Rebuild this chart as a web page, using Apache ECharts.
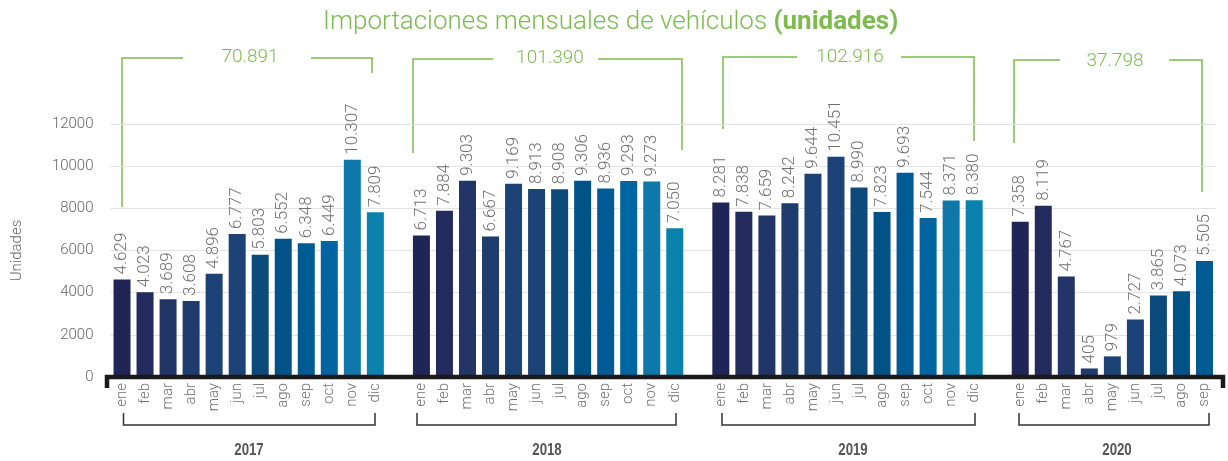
<!DOCTYPE html>
<html>
<head>
<meta charset="utf-8">
<script src="https://cdn.jsdelivr.net/npm/echarts@6/dist/echarts.min.js"></script>
<style>
  html, body { margin: 0; padding: 0; background: #fff; }
  #chart { width: 1228px; height: 461px; }
</style>
</head>
<body>
<div id="chart"></div>
<script>
// datos
const months = ['ene', 'feb', 'mar', 'abr', 'may', 'jun', 'jul', 'ago', 'sep', 'oct', 'nov', 'dic'];
const years = ['2017', '2018', '2019', '2020'];
const v2017 = [4629, 4023, 3689, 3608, 4896, 6777, 5803, 6552, 6348, 6449, 10307, 7809];
const v2018 = [6713, 7884, 9303, 6667, 9169, 8913, 8908, 9306, 8936, 9293, 9273, 7050];
const v2019 = [8281, 7838, 7659, 8242, 9644, 10451, 8990, 7823, 9693, 7544, 8371, 8380];
const v2020 = [7358, 8119, 4767, 405, 979, 2727, 3865, 4073, 5505];
const totals = ['70.891', '101.390', '102.916', '37.798'];
const yTicks = [0, 2000, 4000, 6000, 8000, 10000, 12000];

const monthColors = ['#1f2556', '#222b5c', '#233566', '#1e3d6e', '#1c4276', '#1c4277',
  '#0d4a7c', '#015387', '#005b95', '#0065a0', '#0f78aa', '#0a82ad'];

const green = '#7dbb4f';
const grey = '#707070';

// categorias con un hueco entre años
const allValues = [v2017, v2018, v2019, v2020];
const categories = [];
const seriesData = [];
allValues.forEach((vals, yi) => {
  vals.forEach((v, mi) => {
    categories.push(months[mi]);
    seriesData.push({ value: v, itemStyle: { color: monthColors[mi] } });
  });
  if (yi < allValues.length - 1) {
    categories.push('');
    seriesData.push('-');
  }
});

function fmt(v) {
  return String(v).replace(/\B(?=(\d{3})+(?!\d))/g, '.');
}

// corchetes verdes (totales) y negros (años), en pixeles
const topBrackets = [
  { xl: 122, ytop: 58, ylb: 207, xh1: 183, xh2: 311, xr: 372, yrb: 73, tx: 250, ty: 57 },
  { xl: 413, ytop: 59, ylb: 153, xh1: 493, xh2: 598, xr: 682, yrb: 150, tx: 550, ty: 58 },
  { xl: 723, ytop: 57, ylb: 129, xh1: 797, xh2: 901, xr: 974, yrb: 141, tx: 850, ty: 57 },
  { xl: 1014, ytop: 60, ylb: 143, xh1: 1060, xh2: 1169, xr: 1202, yrb: 192, tx: 1115, ty: 61 }
];
const yearBrackets = [
  { x1: 123.5, x2: 375, tx: 249 },
  { x1: 417, x2: 676, tx: 547 },
  { x1: 722, x2: 975, tx: 853 },
  { x1: 1019, x2: 1209, tx: 1117 }
];

const graphic = [];
topBrackets.forEach((b, i) => {
  graphic.push({
    type: 'polyline',
    shape: { points: [[b.xl, b.ylb], [b.xl, b.ytop], [b.xh1, b.ytop]] },
    style: { stroke: green, lineWidth: 1.5, fill: null }
  });
  graphic.push({
    type: 'polyline',
    shape: { points: [[b.xh2, b.ytop], [b.xr, b.ytop], [b.xr, b.yrb]] },
    style: { stroke: green, lineWidth: 1.5, fill: null }
  });
  graphic.push({
    type: 'text',
    x: b.tx, y: b.ty,
    style: {
      text: totals[i], fill: green, font: '300 19px Roboto',
      textAlign: 'center', textVerticalAlign: 'middle'
    }
  });
});
yearBrackets.forEach((b, i) => {
  graphic.push({
    type: 'polyline',
    shape: { points: [[b.x1, 413], [b.x1, 425], [b.x2, 425], [b.x2, 413]] },
    style: { stroke: '#333', lineWidth: 1.5, fill: null }
  });
  graphic.push({
    type: 'text',
    x: b.tx, y: 450,
    scaleX: 0.78,
    style: {
      text: years[i], fill: '#555', font: 'bold 17px "Liberation Sans"',
      textAlign: 'center', textVerticalAlign: 'middle'
    }
  });
});
// linea base negra con ganchos
graphic.push({
  type: 'polyline',
  z: 100,
  shape: { points: [[107, 388], [107, 377], [1223, 377], [1223, 388]] },
  style: { stroke: '#1a1a1a', lineWidth: 4.5, fill: null }
});

const chart = echarts.init(document.getElementById('chart'));
chart.setOption({
  animation: false,
  title: {
    text: '{a|Importaciones mensuales de vehículos }{b|(unidades)}',
    left: 318,
    top: 4,
    textStyle: {
      rich: {
        a: { fontFamily: 'Roboto', fontWeight: 300, fontSize: 26, color: green },
        b: { fontFamily: 'Roboto', fontWeight: 'bold', fontSize: 26, color: green }
      }
    }
  },
  grid: { left: 110.5, right: 12, top: 124, bottom: 84 },
  xAxis: {
    type: 'category',
    data: categories,
    axisLine: { show: false },
    axisTick: { show: false },
    axisLabel: {
      interval: 0, rotate: 90, margin: 6,
      color: grey, fontSize: 15, fontFamily: 'Roboto', fontWeight: 300
    }
  },
  yAxis: {
    type: 'value',
    min: 0,
    max: yTicks[yTicks.length - 1],
    interval: 2000,
    name: 'Unidades',
    nameLocation: 'middle',
    nameRotate: 90,
    nameGap: 86,
    nameTextStyle: { color: '#666', fontSize: 15, fontFamily: 'Roboto', fontWeight: 300 },
    axisLine: { show: false },
    axisTick: { show: false },
    axisLabel: {
      color: '#666', fontSize: 15, margin: 17, fontFamily: 'Roboto', fontWeight: 300,
      formatter: v => String(v)
    },
    splitLine: { lineStyle: { color: '#e3e3e3', width: 1 } }
  },
  series: [{
    type: 'bar',
    data: seriesData,
    barWidth: 17,
    label: {
      show: true,
      position: 'top',
      rotate: 90,
      align: 'left',
      verticalAlign: 'middle',
      distance: 5,
      color: grey,
      fontSize: 17,
      fontFamily: 'Roboto',
      fontWeight: 300,
      formatter: p => fmt(p.value)
    }
  }],
  graphic: graphic
});
</script>
</body>
</html>
